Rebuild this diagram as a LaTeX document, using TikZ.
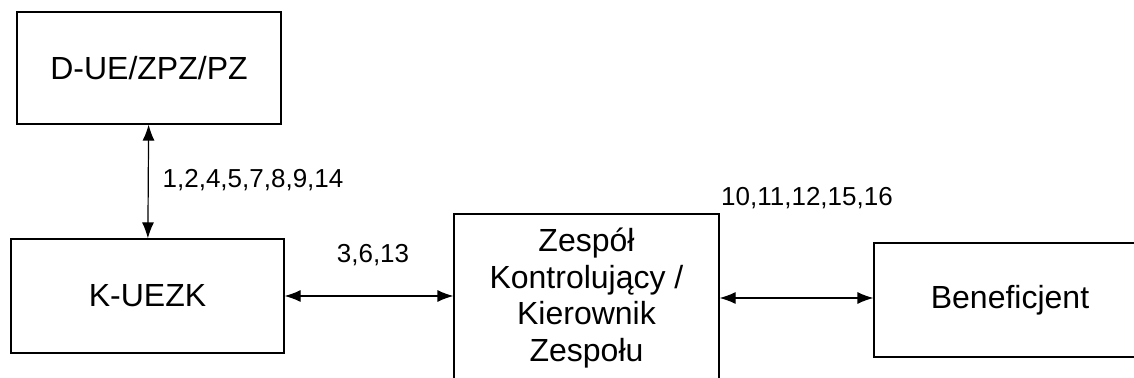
\documentclass[tikz,border=0pt]{standalone}
\usepackage{fontspec}
\setmainfont{Liberation Sans}
\usepackage{tikz}
\usetikzlibrary{positioning}
\usetikzlibrary{arrows.meta}

\tikzset{
  box/.style={draw, line width=0.6pt, rectangle, inner sep=0pt, align=center, font=\fontsize{16}{18.4}\selectfont},
  nums/.style={font=\fontsize{13}{15}\selectfont},
  link/.style={{Latex[length=8pt,width=6pt]}-{Latex[length=8pt,width=6pt]}, line width=0.6pt}
}

\begin{document}
\begin{tikzpicture}[x=0.5pt, y=-0.5pt]
                \useasboundingbox (0,0) rectangle (1134,378);

                % Nodes
                \node at (149,68) (due) [box, minimum width=132pt, minimum height=56pt] {D-UE/ZPZ/PZ};
                \node at (147.5,296) (kuezk) [box, minimum width=136.5pt, minimum height=57pt] {K-UEZK};
                \node at (586.5,298) (zespol) [box, minimum width=132.5pt, minimum height=84pt] {Zespół\\Kontrolujący /\\Kierownik\\Zespołu};
                \node at (1010,300) (benef) [box, minimum width=136pt, minimum height=57pt] {Beneficjent};

                % Labels
                \node at (253,180) (l1) [nums] {1,2,4,5,7,8,9,14};
                \node at (373,255) (l2) [nums] {3,6,13};
                \node at (807,198) (l3) [nums] {10,11,12,15,16};

                % Arrows
                \draw[link] (due) -- (kuezk);
                \draw[link] (kuezk.east) -- (kuezk.east -| zespol.west);
                \draw[link] (zespol.east) -- (zespol.east -| benef.west);

            \end{tikzpicture}
\end{document}
